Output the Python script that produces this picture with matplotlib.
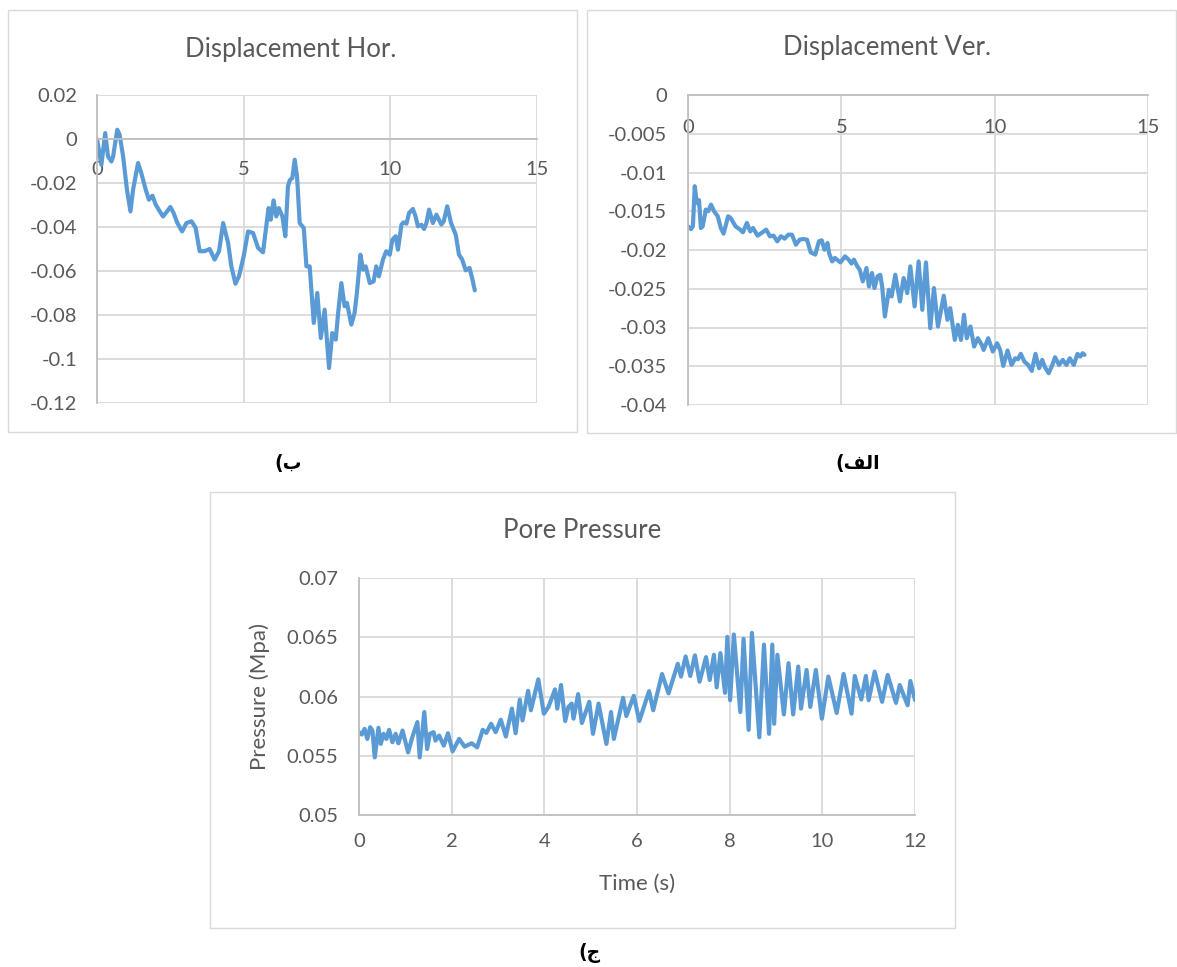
import matplotlib
matplotlib.use("Agg")
import matplotlib.pyplot as plt
from matplotlib.patches import Rectangle
from matplotlib.ticker import FuncFormatter

# Horizontal displacement
hor_t = [0, 0.15, 0.28, 0.375, 0.49, 0.55, 0.69, 0.77, 0.89, 1.02, 1.14, 1.23,
         1.40, 1.51, 1.66, 1.77, 1.89, 2.0, 2.14, 2.25, 2.39, 2.5, 2.61, 2.73,
         2.9, 3.05, 3.22, 3.36, 3.5, 3.67, 3.84, 4.01, 4.16, 4.30, 4.47, 4.58,
         4.72, 4.84, 5.0, 5.15, 5.32, 5.49, 5.66, 5.77, 5.85, 5.92, 6.02, 6.11,
         6.2, 6.32, 6.42, 6.51, 6.57, 6.66, 6.74, 6.82, 6.91, 7.05, 7.14, 7.25,
         7.39, 7.51, 7.63, 7.76, 7.91, 8.02, 8.14, 8.22, 8.33, 8.44, 8.52, 8.67,
         8.78, 8.86, 8.98, 9.07, 9.16, 9.3, 9.43, 9.52, 9.61, 9.75, 9.86, 9.98,
         10.07, 10.18, 10.26, 10.38, 10.45, 10.55, 10.64, 10.77, 10.86, 10.94,
         11.06, 11.15, 11.23, 11.32, 11.45, 11.57, 11.74, 11.82, 11.94, 12.07,
         12.23, 12.34, 12.45, 12.57, 12.70, 12.8, 12.88]
hor_v = [0, -0.0117, 0.0027, -0.0079, -0.0102, -0.0079, 0.0042, 0.0020, -0.0079,
         -0.023, -0.0329, -0.023, -0.0109, -0.0155, -0.023, -0.0276, -0.0258,
         -0.0298, -0.0329, -0.0352, -0.0329, -0.0309, -0.0336, -0.0379, -0.042,
         -0.0382, -0.0374, -0.0403, -0.051, -0.051, -0.05, -0.0548, -0.051,
         -0.0382, -0.0473, -0.0579, -0.0658, -0.0624, -0.0533, -0.042, -0.0427,
         -0.0495, -0.0515, -0.0397, -0.0314, -0.0367, -0.0279, -0.0352, -0.0314,
         -0.0352, -0.0442, -0.0215, -0.0188, -0.0177, -0.0094, -0.017, -0.0382,
         -0.0405, -0.0579, -0.0579, -0.0836, -0.07, -0.0905, -0.0776, -0.1041,
         -0.0882, -0.0912, -0.0791, -0.0655, -0.076, -0.0745, -0.0844, -0.0791,
         -0.07, -0.0526, -0.0594, -0.0579, -0.0655, -0.0647, -0.0579, -0.0624,
         -0.0548, -0.051, -0.0526, -0.0458, -0.0442, -0.0503, -0.0389, -0.0379,
         -0.0385, -0.0336, -0.0318, -0.0352, -0.0397, -0.039, -0.0409, -0.0382,
         -0.0321, -0.0382, -0.0344, -0.0389, -0.0374, -0.0306, -0.0382, -0.0435,
         -0.0526, -0.0548, -0.0597, -0.0586, -0.0639, -0.0688]

# Vertical displacement
ver_t = [0, 0.1, 0.16, 0.22, 0.27, 0.32, 0.36, 0.42, 0.48, 0.58, 0.66, 0.75,
         0.85, 0.97, 1.07, 1.16, 1.31, 1.39, 1.55, 1.70, 1.79, 1.92, 2.03, 2.12,
         2.27, 2.40, 2.55, 2.67, 2.79, 2.91, 3.03, 3.15, 3.27, 3.39, 3.52, 3.64,
         3.76, 3.88, 4.0, 4.15, 4.27, 4.36, 4.45, 4.55, 4.6, 4.7, 4.79, 4.97,
         5.12, 5.24, 5.33, 5.41, 5.52, 5.6, 5.7, 5.82, 5.9, 6.0, 6.08, 6.18,
         6.27, 6.33, 6.42, 6.55, 6.64, 6.76, 6.91, 7.03, 7.15, 7.25, 7.39, 7.52,
         7.64, 7.76, 7.9, 8.02, 8.15, 8.34, 8.46, 8.55, 8.70, 8.8, 8.9, 9.0,
         9.09, 9.21, 9.33, 9.45, 9.58, 9.64, 9.79, 9.94, 10.08, 10.18, 10.28,
         10.42, 10.55, 10.67, 10.76, 10.85, 10.97, 11.09, 11.21, 11.33, 11.45,
         11.55, 11.64, 11.76, 11.88, 11.97, 12.1, 12.22, 12.34, 12.45, 12.58,
         12.7, 12.79, 12.87, 12.93]
ver_v = [-0.01694, -0.0173, -0.01694, -0.01177, -0.0134, -0.0140, -0.01358,
         -0.01716, -0.01694, -0.01478, -0.01500, -0.01414, -0.0150, -0.01565,
         -0.01716, -0.01789, -0.01565, -0.01586, -0.01694, -0.01737, -0.01772,
         -0.01651, -0.0176, -0.01716, -0.01815, -0.0178, -0.01737, -0.01823,
         -0.01815, -0.01888, -0.01823, -0.01853, -0.01802, -0.01802, -0.01931,
         -0.01866, -0.01858, -0.01866, -0.0203, -0.0206, -0.01888, -0.01875,
         -0.01996, -0.01909, -0.02039, -0.02147, -0.02103, -0.0216, -0.02082,
         -0.02125, -0.02175, -0.02125, -0.02211, -0.02254, -0.02405, -0.02233,
         -0.0247, -0.02297, -0.02491, -0.0234, -0.02320, -0.0247, -0.02858,
         -0.02513, -0.02599, -0.02319, -0.02664, -0.02362, -0.02556, -0.02211,
         -0.02728, -0.02147, -0.02772, -0.0216, -0.03009, -0.02491, -0.02987,
         -0.0259, -0.02901, -0.0275, -0.0316, -0.02966, -0.0316, -0.02836,
         -0.03138, -0.02987, -0.03246, -0.03138, -0.03224, -0.0329, -0.03138,
         -0.0331, -0.03203, -0.0329, -0.03496, -0.03297, -0.03483, -0.03397,
         -0.0341, -0.0334, -0.0344, -0.03483, -0.0356, -0.0334, -0.03526,
         -0.03418, -0.03513, -0.0359, -0.03483, -0.03384, -0.03483, -0.03418,
         -0.03483, -0.03397, -0.03483, -0.0334, -0.03375, -0.03332, -0.03353]

# Pore pressure
pp_t = [0, 0.06, 0.12, 0.18, 0.24, 0.29, 0.34, 0.42, 0.47, 0.53, 0.59, 0.65,
        0.72, 0.79, 0.85, 0.94, 1.06, 1.15, 1.26, 1.31, 1.41, 1.47, 1.53, 1.61,
        1.65, 1.73, 1.83, 1.92, 2.02, 2.16, 2.28, 2.43, 2.55, 2.67, 2.75, 2.85,
        2.95, 3.06, 3.17, 3.30, 3.38, 3.47, 3.53, 3.65, 3.71, 3.87, 3.99, 4.09,
        4.23, 4.28, 4.36, 4.45, 4.52, 4.59, 4.63, 4.73, 4.81, 4.97, 5.05, 5.17,
        5.34, 5.44, 5.50, 5.70, 5.77, 5.93, 6.05, 6.26, 6.35, 6.54, 6.68, 6.88,
        6.95, 7.05, 7.15, 7.25, 7.35, 7.49, 7.57, 7.66, 7.72, 7.80, 7.9, 7.95,
        8.01, 8.09, 8.23, 8.30, 8.41, 8.48, 8.64, 8.74, 8.85, 8.92, 8.96, 9.03,
        9.17, 9.27, 9.37, 9.48, 9.54, 9.66, 9.74, 9.86, 9.99, 10.13, 10.31,
        10.46, 10.63, 10.70, 10.84, 10.94, 11.0, 11.13, 11.29, 11.41, 11.59,
        11.67, 11.84, 11.9, 12.0]
pp_v = [0.05699, 0.05679, 0.05727, 0.05642, 0.05741, 0.05713, 0.05486,
        0.05736, 0.0560, 0.05685, 0.05642, 0.05719, 0.05614, 0.05685, 0.05605,
        0.05713, 0.05528, 0.05656, 0.05784, 0.05486, 0.05869, 0.05557, 0.05685,
        0.05699, 0.05628, 0.0567, 0.05585, 0.0569, 0.05537, 0.05642, 0.05577,
        0.05605, 0.05571, 0.05719, 0.05693, 0.0577, 0.05699, 0.05804, 0.05662,
        0.05898, 0.0569, 0.05974, 0.05798, 0.06048, 0.05884, 0.06145, 0.05855,
        0.05912, 0.0606, 0.05898, 0.06097, 0.05793, 0.05912, 0.05940, 0.05813,
        0.0602, 0.05776, 0.05955, 0.05685, 0.0594, 0.0560, 0.05869, 0.05642,
        0.05989, 0.05835, 0.06006, 0.05793, 0.06045, 0.05884, 0.0619, 0.06026,
        0.06276, 0.06168, 0.06338, 0.06173, 0.06347, 0.06125, 0.06332, 0.06139,
        0.06352, 0.06077, 0.06366, 0.06031, 0.06503, 0.05969, 0.06523, 0.05869,
        0.06486, 0.05719, 0.06537, 0.05656, 0.06438, 0.05685, 0.06438, 0.0577,
        0.06352, 0.05849, 0.06281, 0.05849, 0.06253, 0.05898, 0.06224, 0.05912,
        0.06224, 0.05813, 0.06168, 0.05861, 0.0619, 0.05855, 0.06173, 0.05974,
        0.06173, 0.05969, 0.0621, 0.05955, 0.06182, 0.05946, 0.06097, 0.05926,
        0.06131, 0.0597]

hor_yticks = [0.02, 0, -0.02, -0.04, -0.06, -0.08, -0.1, -0.12]
ver_yticks = [0, -0.005, -0.01, -0.015, -0.02, -0.025, -0.03, -0.035, -0.04]
pp_yticks = [0.05, 0.055, 0.06, 0.065, 0.07]
disp_xticks = [0, 5, 10, 15]
pp_xticks = [0, 2, 4, 6, 8, 10, 12]

BLUE = "#5B9BD5"
GRID = "#D9D9D9"
AXIS = "#BFBFBF"
TXT = "#595959"

plt.rcParams["font.family"] = ["Lato", "DejaVu Sans"]

fig = plt.figure(figsize=(11.77, 9.67), dpi=100)
W, H = 1177.0, 967.0


def box(x0, y0, x1, y1):
    # chart-area frame, pixel coords from the top-left corner
    fig.patches.append(Rectangle((x0 / W, 1 - y1 / H), (x1 - x0) / W, (y1 - y0) / H,
                                 transform=fig.transFigure, fill=False,
                                 edgecolor=GRID, lw=1.0))


def axes_px(x0, y0, x1, y1):
    return fig.add_axes([x0 / W, 1 - y1 / H, (x1 - x0) / W, (y1 - y0) / H])


def style(ax, xt, yt, xlim, ylim, xpad, ypad):
    ax.set_xlim(xlim)
    ax.set_ylim(ylim)
    ax.set_xticks(xt)
    ax.set_yticks(yt)
    fmt = FuncFormatter(lambda v, p: "{:g}".format(round(v, 4)))
    ax.xaxis.set_major_formatter(fmt)
    ax.yaxis.set_major_formatter(fmt)
    ax.grid(True, color=GRID, lw=1.3)
    ax.set_axisbelow(True)
    for s in ["top", "right"]:
        ax.spines[s].set_visible(False)
    for s in ["left", "bottom"]:
        ax.spines[s].set_color(AXIS)
        ax.spines[s].set_linewidth(1.3)
    ax.tick_params(axis="both", length=0, labelsize=14.5, labelcolor=TXT)
    ax.tick_params(axis="x", pad=xpad)
    ax.tick_params(axis="y", pad=ypad)


# top-left: horizontal displacement
box(8, 10, 577, 432)
ax1 = axes_px(97, 95, 537, 403)
ax1.plot(hor_t, hor_v, color=BLUE, lw=3.0, solid_joinstyle="round",
         solid_capstyle="round")
style(ax1, disp_xticks, hor_yticks, (0, 15), (-0.12, 0.02), 16, 14)
ax1.spines["bottom"].set_position(("data", 0))
fig.text(291 / W, 1 - 50 / H, "Displacement Hor.", ha="center", va="center",
         fontsize=18.5, color=TXT)

# top-right: vertical displacement
box(587, 10, 1176, 433)
ax2 = axes_px(688, 95, 1148, 405)
ax2.plot(ver_t, ver_v, color=BLUE, lw=3.0, solid_joinstyle="round",
         solid_capstyle="round")
style(ax2, disp_xticks, ver_yticks, (0, 15), (-0.04, 0), 17, 15)
ax2.spines["bottom"].set_position(("data", 0))
fig.text(887 / W, 1 - 48 / H, "Displacement Ver.", ha="center", va="center",
         fontsize=18.5, color=TXT)

# bottom: pore pressure
box(210, 492, 955, 928)
ax3 = axes_px(359, 578, 915, 815)
ax3.plot(pp_t, pp_v, color=BLUE, lw=3.0, solid_joinstyle="round",
         solid_capstyle="round")
style(ax3, pp_xticks, pp_yticks, (0, 12), (0.05, 0.07), 13, 15)
ax3.set_xlabel("Time (s)", fontsize=16, color=TXT, labelpad=17)
ax3.set_ylabel("Pressure (Mpa)", fontsize=16, color=TXT, labelpad=12)
fig.text(582 / W, 1 - 530 / H, "Pore Pressure", ha="center", va="center",
         fontsize=18.5, color=TXT)

# panel captions (Arabic letters in presentation forms, visual order)
cap = dict(ha="center", va="center", fontsize=13.5, color="black",
           family="DejaVu Sans", fontweight="bold")
fig.text(288 / W, 1 - 464 / H, "(\uFE8F", **cap)
fig.text(858 / W, 1 - 464 / H, "(\uFED2\uFEDF\uFE8D", **cap)
fig.text(589 / W, 1 - 953 / H, "(\uFE9D", **cap)

fig.savefig("out.png", dpi=100)
